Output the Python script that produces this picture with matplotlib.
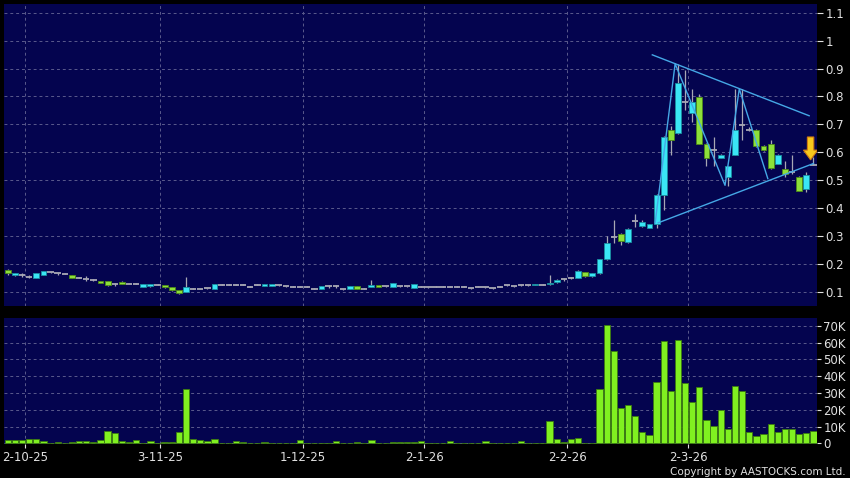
import matplotlib
matplotlib.use('Agg')
import matplotlib.pyplot as plt
from matplotlib.patches import FancyArrow

plt.rcParams['font.family'] = ['DejaVu Sans']

# daily OHLC (one entry per trading bar)
opens = [.178, .160, .162, .155, .152, .160, .171, .167, .165, .160,
         .152, .148, .143, .140, .140, .129, .136, .129, .129, .117,
         .121, .126, .124, .117, .107, .100, .112, .112, .114, .112,
         .126, .126, .126, .126, .119, .126, .121, .121, .124, .121,
         .119, .119, .119, .112, .112, .121, .121, .110, .110, .121,
         .112, .117, .125, .121, .119, .121, .121, .114, .119, .117,
         .119, .119, .119, .119, .119, .114, .119, .117, .114, .119,
         .124, .121, .124, .124, .124, .126, .127, .136, .145, .151,
         .152, .170, .157, .167, .218, .298, .307, .280, .356, .336,
         .330, .342, .446, .681, .670, .780, .742, .798, .631, .607,
         .581, .510, .592, .699, .681, .681, .621, .629, .560, .542,
         .530, .510, .470, .556]
closes = [.167, .167, .162, .155, .167, .174, .171, .167, .165, .152,
          .152, .148, .143, .133, .124, .129, .129, .129, .129, .129,
          .129, .126, .117, .107, .095, .117, .112, .112, .114, .129,
          .126, .126, .126, .126, .119, .126, .129, .129, .124, .121,
          .119, .119, .119, .112, .121, .121, .121, .110, .121, .112,
          .112, .126, .119, .121, .131, .121, .121, .129, .119, .117,
          .119, .119, .119, .119, .119, .114, .119, .117, .114, .119,
          .124, .121, .124, .124, .129, .126, .134, .144, .145, .151,
          .175, .157, .167, .217, .277, .298, .281, .327, .356, .351,
          .342, .446, .655, .643, .848, .780, .780, .631, .581, .607,
          .592, .550, .681, .699, .681, .621, .610, .543, .589, .521,
          .530, .462, .519, .556]
highs = [.181, .169, .169, .160, .169, .176, .172, .169, .167, .162,
         .155, .157, .145, .141, .140, .131, .138, .130, .131, .129,
         .129, .127, .124, .117, .107, .155, .113, .112, .114, .129,
         .127, .129, .127, .127, .121, .127, .129, .129, .126, .122,
         .121, .121, .120, .114, .121, .126, .126, .112, .121, .121,
         .114, .143, .126, .122, .131, .122, .122, .129, .121, .119,
         .120, .120, .120, .120, .120, .116, .120, .119, .116, .120,
         .126, .122, .126, .126, .129, .128, .161, .147, .150, .155,
         .178, .172, .169, .220, .300, .357, .310, .330, .381, .357,
         .345, .450, .660, .693, .917, .893, .827, .810, .633, .655,
         .595, .550, .827, .827, .690, .685, .625, .645, .595, .569,
         .589, .515, .530, .583]
lows = [.162, .158, .155, .150, .150, .160, .169, .160, .163, .150,
        .150, .138, .141, .131, .122, .121, .127, .128, .128, .117,
        .119, .125, .114, .105, .093, .100, .111, .110, .112, .112,
        .125, .124, .125, .125, .117, .125, .121, .121, .122, .119,
        .117, .117, .118, .110, .112, .114, .114, .108, .110, .111,
        .110, .117, .119, .119, .119, .119, .119, .114, .117, .115,
        .118, .118, .118, .118, .118, .112, .118, .115, .112, .118,
        .122, .119, .122, .122, .124, .124, .126, .131, .138, .148,
        .150, .155, .155, .165, .216, .276, .270, .274, .333, .333,
        .328, .330, .393, .589, .665, .750, .708, .630, .550, .550,
        .578, .480, .590, .643, .676, .618, .605, .540, .557, .510,
        .524, .460, .458, .554]
# volume in thousands
volumes = [2.0, 2.0, 2.0, 2.4, 2.4, 1.4, 0.3, 0.8, 0.2, 0.8,
           1.4, 1.4, 0.8, 2.0, 7.1, 6.3, 1.4, 0.5, 2.0, 0.1,
           1.2, 0.2, 0.6, 0.6, 6.5, 32.3, 2.6, 2.0, 1.6, 2.6,
           0.4, 0.0, 1.6, 1.0, 0.0, 0.0, 1.0, 0.1, 0.4, 0.0,
           0.4, 1.8, 0.0, 0.0, 0.0, 0.1, 1.2, 0.0, 0.0, 0.5,
           0.0, 2.0, 0.3, 0.3, 0.5, 0.5, 0.5, 0.5, 1.4, 0.0,
           0.0, 0.4, 1.6, 0.0, 0.0, 0.0, 0.0, 1.4, 0.0, 0.4,
           0.0, 0.0, 1.4, 0.0, 0.4, 0.4, 13.3, 2.4, 1.0, 2.4,
           3.4, 0.0, 0.0, 32.1, 70.2, 55.0, 21.0, 22.6, 16.3, 6.9,
           4.8, 36.3, 60.9, 31.3, 61.5, 35.7, 24.6, 33.3, 13.7, 10.3,
           19.8, 8.5, 34.3, 31.0, 6.9, 4.6, 5.4, 11.5, 6.7, 8.5,
           8.3, 5.6, 6.2, 7.1]

date_pos = [2.4, 21.4, 41.4, 58.4, 78.5, 95.4]
date_labels = ['2-10-25', '3-11-25', '1-12-25', '2-1-26', '2-2-26', '2-3-26']
price_ticks = [0.1, 0.2, 0.3, 0.4, 0.5, 0.6, 0.7, 0.8, 0.9, 1.0, 1.1]
price_labels = ['0.1', '0.2', '0.3', '0.4', '0.5', '0.6', '0.7', '0.8', '0.9', '1', '1.1']
vol_ticks = [0, 10, 20, 30, 40, 50, 60, 70]
vol_labels = ['0', '10K', '20K', '30K', '40K', '50K', '60K', '70K']

# drawn pattern lines (bar index, price)
upper_x, upper_y = [90.4, 112.4], [0.949, 0.731]
lower_x, lower_y = [91.2, 113.0], [0.3475, 0.560]
zig_x = [90.8, 93.6, 100.6, 102.6, 106.6]
zig_y = [0.3475, 0.917, 0.482, 0.827, 0.506]
arrow_x, arrow_top, arrow_tip = 112.6, 0.655, 0.573

bg = '#04044f'
grid_col = '#5a5a8c'
txt_col = '#e0e0e0'
up_col, up_edge = '#3ae6f5', '#1a8fa0'
dn_col, dn_edge = '#8de03a', '#4d8a18'
flat_col = '#a8a8b4'
lab_size = 8.5

fig = plt.figure(figsize=(8.5, 4.78), dpi=100, facecolor='black')
ax = fig.add_axes([4/850, 1-306/478, 813/850, 302/478], facecolor=bg)
axv = fig.add_axes([4/850, 1-444/478, 813/850, 126/478], facecolor=bg)

n = len(opens)
x = list(range(n))

# wicks
ax.vlines(x, lows, highs, color=flat_col, lw=0.9, zorder=2)
for i in x:
    o, c = opens[i], closes[i]
    if c > o:
        ax.bar(i, c - o, bottom=o, width=0.82, color=up_col, edgecolor=up_edge, lw=0.6, zorder=3)
    elif c < o:
        ax.bar(i, o - c, bottom=c, width=0.82, color=dn_col, edgecolor=dn_edge, lw=0.6, zorder=3)
    else:
        ax.hlines(o, i - 0.45, i + 0.45, color=flat_col, lw=1.3, zorder=3)

ax.plot(upper_x, upper_y, color='#45a8e6', lw=1.0, zorder=4)
ax.plot(lower_x, lower_y, color='#45a8e6', lw=1.0, zorder=4)
ax.plot(zig_x, zig_y, color='#45a8e6', lw=1.0, zorder=4)
ax.add_patch(FancyArrow(arrow_x, arrow_top, 0, arrow_tip - arrow_top, width=0.9,
                        head_width=2.0, head_length=0.035, length_includes_head=True,
                        color='#f8c81c', ec='#d07a10', lw=0.8, zorder=5))

ax.set_xlim(-0.53, 113.5)
ax.set_ylim(0.05, 1.131)
ax.set_yticks(price_ticks)
ax.set_yticklabels(price_labels)
ax.set_xticks(date_pos)
ax.set_xticklabels([])
ax.yaxis.tick_right()
ax.tick_params(axis='y', colors=txt_col, length=4, pad=2, labelsize=lab_size)
ax.tick_params(axis='x', length=0)

axv.bar(x, volumes, width=0.88, color='#80f020', edgecolor='#3c7a10', lw=0.6, zorder=3)
axv.set_xlim(-0.53, 113.5)
axv.set_ylim(-0.4, 74.6)
axv.set_yticks(vol_ticks)
axv.set_yticklabels(vol_labels)
axv.set_xticks(date_pos)
axv.set_xticklabels(date_labels)
axv.yaxis.tick_right()
axv.tick_params(axis='y', colors=txt_col, length=3, pad=1.5, labelsize=lab_size)
axv.tick_params(axis='x', colors=txt_col, length=3, pad=2, labelsize=lab_size)

for a in (ax, axv):
    a.grid(True, color=grid_col, lw=0.7, linestyle=(0, (3, 3)), zorder=1)
    a.set_axisbelow(True)
    for s in a.spines.values():
        s.set_visible(False)

fig.text(0.995, 0.003, 'Copyright by AASTOCKS.com Ltd.', ha='right', va='bottom',
         color=txt_col, fontsize=7.5)

fig.savefig('out.png', dpi=100, facecolor='black')
